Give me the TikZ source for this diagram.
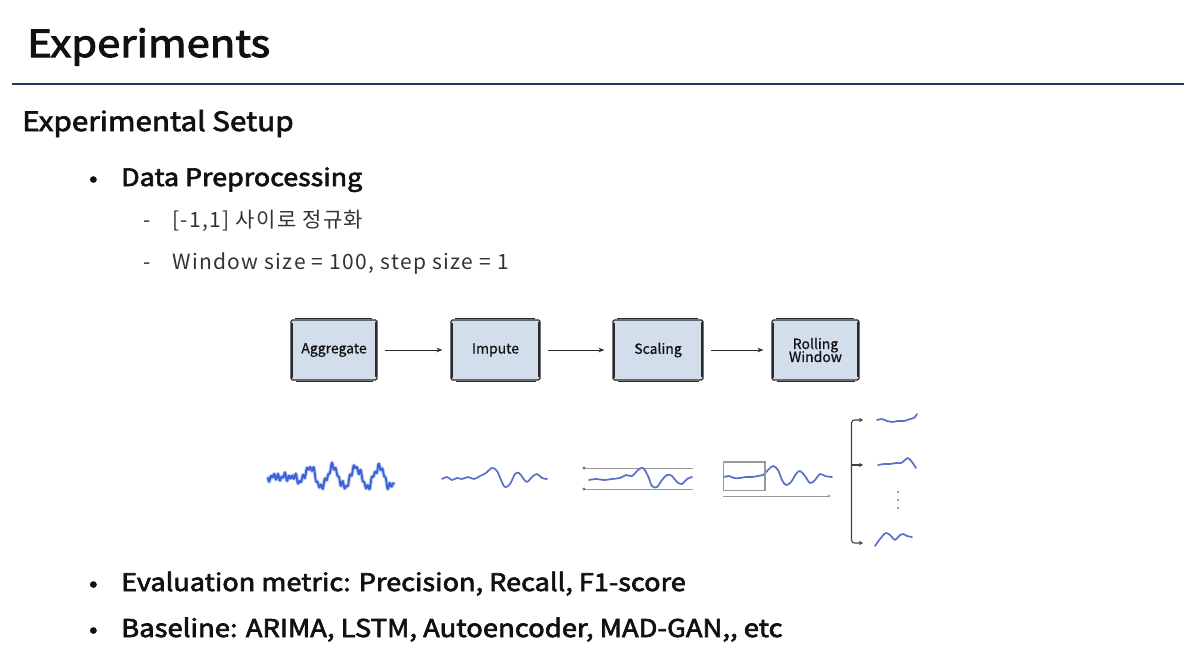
\documentclass[tikz,border=0pt]{standalone}
\usepackage{fontspec}
\setmainfont{Noto Sans CJK KR}
\newfontfamily\headA{Noto Sans CJK KR}[FakeStretch=1.12]
\newfontfamily\subfont{Noto Sans CJK KR}[LetterSpace=6.5]
\newfontfamily\boxfont{Noto Sans CJK KR}[FakeBold=0.6]
\newcommand\strk[2]{\special{pdf:literal direct 2 Tr #1 w}#2\special{pdf:literal direct 0 Tr}}
\usetikzlibrary{arrows.meta}
\definecolor{navy}{HTML}{1F3A68}
\definecolor{boxfill}{HTML}{D2DEEC}
\definecolor{boxline}{HTML}{2A2A2A}
\definecolor{wave}{HTML}{5A6FC9}
\definecolor{noisyc}{HTML}{3B63D9}
\definecolor{txt}{HTML}{111111}
\definecolor{subtxt}{HTML}{333333}
\tikzset{
  txtnode/.style={anchor=base west, inner sep=0pt, text=txt},
  stepbox/.style={draw=boxline, line width=1.1pt, fill=boxfill, rounded corners=1.5pt,
    minimum height=60pt, align=center, font=\boxfont\fontsize{14}{15}\selectfont, text=txt, inner sep=1pt},
  sketch/.style={draw=boxline, line width=1.3pt, line cap=round},
  flow/.style={draw=boxline, line width=0.9pt, -{Stealth[length=6pt,width=4.5pt]}, shorten <=7pt, shorten >=8pt},
  wv/.style={draw=wave, line width=1.7pt, line cap=round, line join=round},
  guide/.style={draw=black!40, line width=0.8pt},
  brk/.style={draw=black!75, line width=1.1pt},
}
\begin{document}
\begin{tikzpicture}[x=1pt,y=-1pt]
\useasboundingbox[fill=white] (0,0) rectangle (1194,664);

% title
\node[txtnode, font=\headA\fontsize{37.3}{40}\selectfont] (title) at (27,57) {\strk{1.0}{Experiments}};
\draw[navy, line width=2.6pt] (12,84) -- (1184,84);

\node[txtnode, font=\headA\fontsize{26.5}{30}\selectfont] (setup) at (22,131) {\strk{0.7}{Experimental Setup}};

\node[txtnode, font=\headA\fontsize{22}{26}\selectfont] (b1) at (89,186) {\strk{0.6}{•}};
\node[txtnode, font=\headA\fontsize{24}{28}\selectfont] (dp) at (121,186) {\strk{0.65}{Data Preprocessing}};

\node[txtnode, text=subtxt, font=\subfont\fontsize{21}{23}\selectfont] (d1) at (143,227) {-};
\node[txtnode, text=subtxt, font=\subfont\fontsize{21}{23}\selectfont] (s1) at (172,227) {[-1,1] 사이로 정규화};
\node[txtnode, text=subtxt, font=\subfont\fontsize{21}{23}\selectfont] (d2) at (143,269) {-};
\node[txtnode, text=subtxt, font=\subfont\fontsize{21}{23}\selectfont] (s2) at (172,269) {Window size = 100, step size = 1};

% pipeline boxes
\node[stepbox, minimum width=86pt] (agg) at (334,350) {Aggregate};
\node[stepbox, minimum width=89pt] (imp) at (495.5,350) {Impute};
\node[stepbox, minimum width=90pt] (sca) at (658,350) {Scaling};
\node[stepbox, minimum width=87pt] (rol) at (815.5,350) {Rolling\\[-2pt]Window};
\foreach \n in {agg,imp,sca,rol}{
  \draw[sketch] ([shift={(1.6,4)}]\n.north west) -- ([shift={(1.6,-3)}]\n.south west);
  \draw[sketch] ([shift={(-1.6,3)}]\n.north east) -- ([shift={(-1.6,-4)}]\n.south east);
  \draw[sketch, line width=0.9pt] ([shift={(5,-1.2)}]\n.north west) -- ([shift={(-6,-1.2)}]\n.north east);
  \draw[sketch, line width=0.9pt] ([shift={(6,1.2)}]\n.south west) -- ([shift={(-5,1.2)}]\n.south east);
}
\draw[flow] (agg) -- (imp);
\draw[flow] (imp) -- (sca);
\draw[flow] (sca) -- (rol);

% noisy signal
\draw[draw=noisyc!70, line width=3.8pt, opacity=0.45, line join=round, line cap=round]
  plot[domain=0:126, samples=330] ({268+\x}, {477 - 10*min(1,max(0,(\x-26)/14))*sin(15.6*(\x-36)) + 2.3*sin(100*\x) + 1.6*sin(61*\x) + 1.3*sin(37*\x+20)});
\draw[draw=noisyc, line width=1.9pt, line join=round]
  plot[domain=0:126, samples=330] ({268+\x}, {477 - 10*min(1,max(0,(\x-26)/14))*sin(15.6*(\x-36)) + 2.3*sin(100*\x) + 1.6*sin(61*\x) + 1.3*sin(37*\x+20)});

% imputed signal
\draw[wv] plot[smooth, tension=0.6] coordinates {(442,479) (447,477) (452,480) (457,478) (462,479) (468,477) (474,479) (480,476) (486,473) (492,468) (497,471) (501,480) (505,487) (510,484) (515,474) (519,473) (523,478) (527,482) (532,477) (537,474) (542,478) (547,479)};

% scaled signal
\draw[guide] (584,468) -- (693,468);
\draw[guide] (584,489) -- (693,489);
\fill[black!55] (584,468) circle (1.6);
\fill[black!55] (584,489) circle (1.6);
\draw[wv] plot[smooth, tension=0.6] coordinates {(589,480) (596,479) (604,480) (612,479) (620,478) (626,475) (632,476) (638,470) (643,468) (648,476) (652,486) (657,487) (662,480) (667,475) (672,476) (677,482) (682,484) (687,479) (692,477)};

% rolling window signal
\draw[wv] plot[smooth, tension=0.6] coordinates {(724,477) (729,476) (734,478) (740,478) (746,477) (752,477) (758,476) (763,475) (768,470) (773,466) (778,470) (782,480) (786,485) (791,482) (796,474) (800,471) (805,476) (810,483) (815,480) (820,474) (825,476) (832,477)};
\draw[draw=black!40, line width=1.1pt] (723.5,462) rectangle (765,490.5);
\coordinate (ax0) at (723,496);
\coordinate (ax1) at (831,496);
\draw[guide, -{Stealth[length=3.5pt,width=3pt]}] (ax0) -- (ax1);

% bracket
\coordinate (bt) at (863,420);
\coordinate (bm) at (863,465);
\coordinate (bb) at (863,543);
\coordinate (bs) at (851.5,465);
\draw[brk, rounded corners=3pt, {Stealth[length=4pt,width=4pt]}-{Stealth[length=4pt,width=4pt]}] (bt) -| (851.5,481) |- (bb);
\draw[brk, -{Stealth[length=4pt,width=4pt]}] (bs) -- (bm);

% small windows
\draw[wv] plot[smooth, tension=0.6] coordinates {(877,420) (882,419) (887,421) (892,422) (898,421) (904,421) (910,419) (914,418) (917,414)};
\draw[wv] plot[smooth, tension=0.6] coordinates {(878,465) (884,464) (890,464) (896,463) (901,463) (905,460) (908,458) (912,462) (916,468)};
\foreach \yy in {492,500,508} \fill[black!50] (898,\yy) circle (1.2);
\draw[wv] plot[smooth, tension=0.6] coordinates {(875,546) (880,539) (886,533) (891,536) (895,540) (899,536) (903,534) (907,536) (912,537)};

% bottom bullets
\node[txtnode, font=\headA\fontsize{22}{26}\selectfont] (b2) at (89,591) {\strk{0.6}{•}};
\node[txtnode, font=\headA\fontsize{24.2}{28}\selectfont] (em) at (121,591) {\strk{0.65}{Evaluation metric: Precision, Recall, F1-score}};
\node[txtnode, font=\headA\fontsize{22}{26}\selectfont] (b3) at (89,637) {\strk{0.6}{•}};
\node[txtnode, font=\headA\fontsize{24.5}{28}\selectfont] (bl) at (121,637) {\strk{0.65}{Baseline: ARIMA, LSTM, Autoencoder, MAD-GAN,, etc}};
\end{tikzpicture}
\end{document}
